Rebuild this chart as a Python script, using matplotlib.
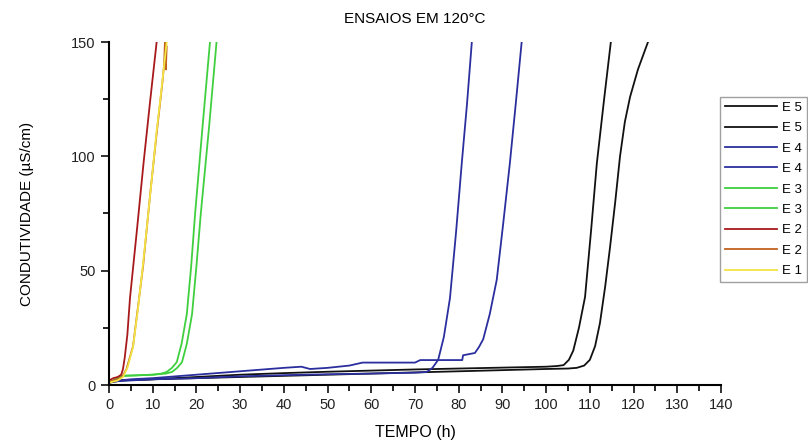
import numpy as np
from matplotlib import pyplot as plt

plt.rcParams['font.family'] = ['Liberation Sans', 'DejaVu Sans']

# E5 (preto)
e5a_x = [0, 2, 10, 20, 30, 40, 50, 60, 70, 80, 90, 100, 102.5, 104, 105.2, 106.2, 107.5, 108.9, 110.3, 111.6, 113.2, 114.8]
e5a_y = [1, 2, 2.5, 3.5, 4.5, 5.2, 5.8, 6.3, 6.8, 7.2, 7.6, 8.0, 8.3, 8.7, 11, 15, 25, 38.5, 68, 97, 124, 150]
e5b_x = [0, 3, 10, 20, 30, 40, 50, 60, 70, 80, 90, 100, 105, 107, 108.7, 110, 111.2, 112.3, 113.5, 114.6, 115.8, 116.9, 118, 119.2, 121, 123.3]
e5b_y = [1, 2, 2.5, 3, 3.5, 4, 4.5, 5, 5.5, 6, 6.5, 7, 7.2, 7.5, 8.5, 11, 17, 27, 43, 60, 80, 100, 115, 126, 138, 150]

# E4 (azul)
e4a_x = [0, 5, 10, 20, 30, 40, 50, 60, 70, 72.7, 74, 75.3, 76.6, 78, 79.4, 80.7, 81.9, 83]
e4a_y = [1.5, 2, 2.5, 3, 3.8, 4.3, 4.7, 5.0, 5.4, 5.7, 7.5, 11, 21, 38, 67, 97, 123, 150]
e4b_x = [0, 5, 10, 20, 30, 40, 44, 46, 50, 55, 58, 70, 71.2, 80.8, 81, 83.7, 84.6, 85.6, 87.1, 88.7, 90.2, 91.7, 93.1, 94.4]
e4b_y = [1.5, 2.5, 3, 4.5, 6, 7.5, 8, 7, 7.5, 8.5, 9.8, 9.8, 10.9, 10.9, 13, 14, 16.5, 20, 31, 46, 71, 97, 124, 150]

# E3 (verde)
e3a_x = [0, 1.5, 3, 6, 10, 12, 13.2, 14.4, 15.5, 16.6, 17.8, 18.8, 19.7, 21.4, 23.1]
e3a_y = [1, 2.5, 4, 4.2, 4.5, 5, 5.7, 7.5, 10, 18, 31, 52, 75, 113, 150]
e3b_x = [0, 1.5, 3, 6, 10, 13, 14.4, 15.6, 16.7, 17.8, 19.0, 20.0, 21.0, 22.9, 24.6]
e3b_y = [1, 2.5, 4, 4.2, 4.5, 5, 5.7, 7.5, 10, 18, 31, 52, 75, 113, 150]

# E2 (vermelho)
e2a_x = [0, 1, 2, 2.8, 3.2, 3.6, 4.2, 4.8, 6.4, 7.9, 9.4, 10.9]
e2a_y = [2, 3, 3.5, 4.5, 7, 12, 22, 38, 68, 97, 124, 150]
e2b_x = [0, 1, 2, 3, 4, 5.5, 7.8, 9.5, 10.9, 12.2, 12.6, 12.8, 13.0, 13.2]
e2b_y = [1.5, 2, 2.5, 3.5, 7, 17, 52, 85, 110, 132, 140, 150, 138, 148]

# E1 (amarelo)
e1_x = [0, 2, 3.2, 4.3, 5.5, 6.6, 7.8, 9.3, 10.9, 12.1, 13.2]
e1_y = [1, 2, 3.5, 8, 16.7, 33, 53, 81, 111, 131, 150]

series = [
    ('E 5', e5a_x, e5a_y, '#111111'),
    ('E 5', e5b_x, e5b_y, '#111111'),
    ('E 4', e4a_x, e4a_y, '#2b2f9e'),
    ('E 4', e4b_x, e4b_y, '#2b2f9e'),
    ('E 3', e3a_x, e3a_y, '#3fcf3f'),
    ('E 3', e3b_x, e3b_y, '#3fcf3f'),
    ('E 2', e2a_x, e2a_y, '#a8191c'),
    ('E 2', e2b_x, e2b_y, '#c0621e'),
    ('E 1', e1_x, e1_y, '#f3e443'),
]

fig = plt.figure(figsize=(8.08, 4.44), dpi=100)
ax = fig.add_axes([109/808, 1-385/444, (721-109)/808, (385-42)/444])

for lab, x, y, c in series:
    ax.plot(x, y, color=c, lw=1.3, label=lab)

ax.set_xlim(0, 140)
ax.set_ylim(0, 150)
ax.set_xticks(np.arange(0, 141, 10))
ax.set_xticks(np.arange(5, 140, 10), minor=True)
ax.set_yticks([0, 50, 100, 150])
ax.set_yticks([25, 75, 125], minor=True)
ax.spines['top'].set_visible(False)
ax.spines['right'].set_visible(False)
ax.spines['left'].set_linewidth(1.5)
ax.spines['bottom'].set_linewidth(1.5)
ax.tick_params(which='major', direction='out', length=6, width=1.3, labelsize=10.5, colors='#222222')
ax.tick_params(which='minor', direction='out', length=4, width=1.2)

ax.set_xlabel('TEMPO (h)', fontsize=11.5, labelpad=9)
ax.set_ylabel('CONDUTIVIDADE (µS/cm)', fontsize=11, labelpad=27)
ax.set_title('ENSAIOS EM 120°C', fontsize=11, pad=14)

leg = fig.legend(loc='upper left', bbox_to_anchor=(720/808, 1-97/444), fontsize=9.5,
                 frameon=True, fancybox=False, handlelength=4.0, labelspacing=0.62,
                 borderpad=0.35, handletextpad=0.35, borderaxespad=0)
leg.get_frame().set_edgecolor('#888888')
leg.get_frame().set_linewidth(1.0)

fig.savefig('out.png', dpi=100)
